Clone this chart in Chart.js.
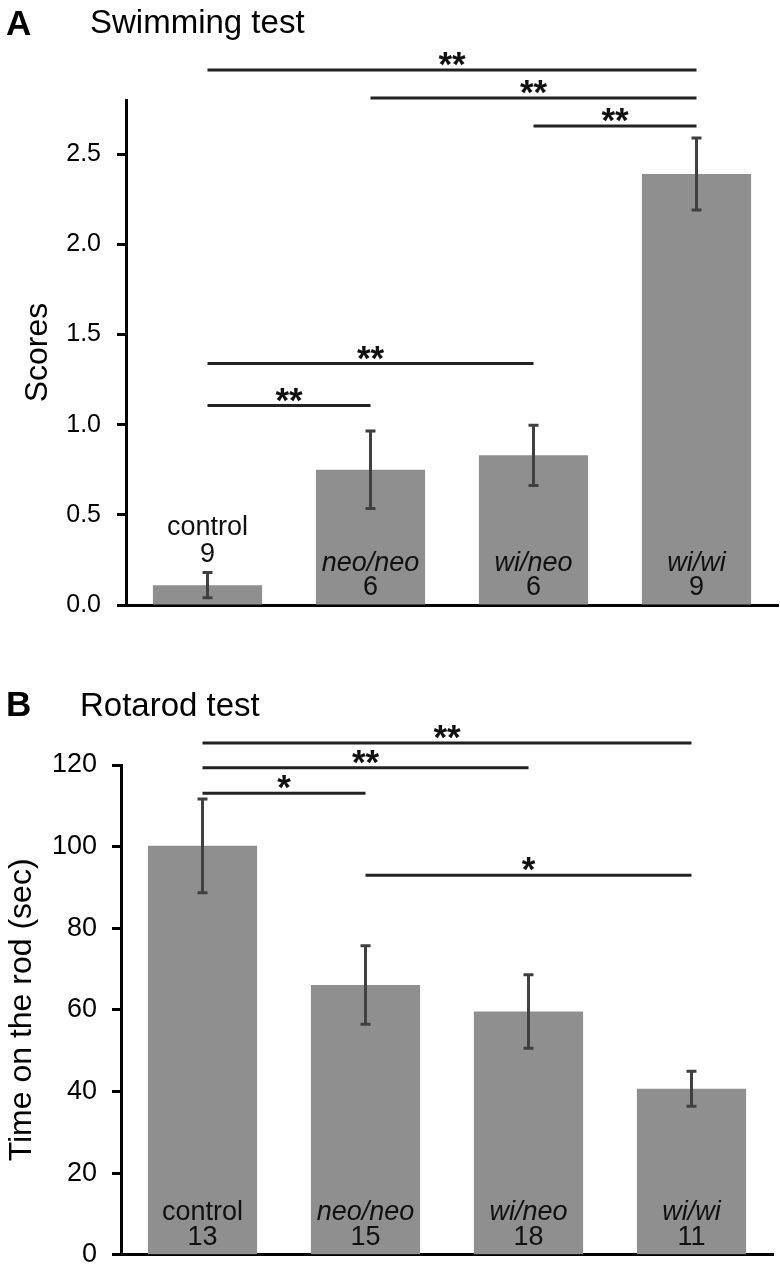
<!DOCTYPE html>
<html>
<head>
<meta charset="utf-8">
<script src="https://cdn.jsdelivr.net/npm/chart.js@4.4.0/dist/chart.umd.min.js"></script>
<style>
  body { margin: 0; background: #fff; font-family: "Liberation Sans", Arial, sans-serif; }
  #page { position: relative; width: 780px; height: 1286px; }
  canvas { position: absolute; left: 0; }
  .letter { position: absolute; font-weight: bold; font-size: 35px; line-height: 1; }
  .ttl { position: absolute; font-size: 33px; line-height: 1; }
</style>
</head>
<body>
<div id="page">
  <canvas id="chartA" style="top:0" width="780" height="640"></canvas>
  <canvas id="chartB" style="top:640px" width="780" height="646"></canvas>
  <div class="letter" style="left:6px;top:5px">A</div>
  <div class="ttl" style="left:90px;top:5px">Swimming test</div>
  <div class="letter" style="left:6px;top:686px">B</div>
  <div class="ttl" style="left:80px;top:688px">Rotarod test</div>
</div>
<script>
// groups
const genotypes = ['control', 'neo/neo', 'wi/neo', 'wi/wi'];

// A: swimming test scores (mean, error, n)
const swimMeans = [0.11, 0.75, 0.83, 2.39];
const swimErr = [0.07, 0.215, 0.167, 0.20];
const swimN = [9, 6, 6, 9];
const swimTicks = [0, 0.5, 1.0, 1.5, 2.0, 2.5];
// significance: [from, to, level (score units), mark]
const swimSig = [[0, 3, 2.967, '**'], [1, 3, 2.811, '**'], [2, 3, 2.656, '**'], [0, 2, 1.339, '**'], [0, 1, 1.106, '**']];

// B: rotarod time (sec)
const rotaMeans = [100.2, 66.1, 59.6, 40.7];
const rotaErr = [11.5, 9.6, 9.0, 4.3];
const rotaN = [13, 15, 18, 11];
const rotaTicks = [0, 20, 40, 60, 80, 100, 120];
const rotaSig = [[0, 3, 125.4, '**'], [0, 2, 119.3, '**'], [0, 1, 113.1, '*'], [1, 3, 93.0, '*']];

const FONT = '"Liberation Sans", Arial, sans-serif';

// error bars, labels inside bars, significance brackets
function extras(means, err, ns, sig) {
  return {
    id: 'extras',
    afterDatasetsDraw(chart) {
      const ctx = chart.ctx;
      const x = chart.scales.x, y = chart.scales.y;
      const base = y.getPixelForValue(0);
      ctx.save();
      ctx.strokeStyle = '#404040';
      ctx.lineWidth = 3;
      means.forEach(function(m, i) {
        const px = x.getPixelForValue(i);
        const top = y.getPixelForValue(m + err[i]);
        const bot = y.getPixelForValue(m - err[i]);
        ctx.beginPath();
        ctx.moveTo(px, top); ctx.lineTo(px, bot);
        ctx.moveTo(px - 5, top); ctx.lineTo(px + 5, top);
        ctx.moveTo(px - 5, bot); ctx.lineTo(px + 5, bot);
        ctx.stroke();
      });

      // group name + n
      ctx.fillStyle = '#111';
      ctx.textAlign = 'center';
      ctx.textBaseline = 'middle';
      means.forEach(function(m, i) {
        const px = x.getPixelForValue(i);
        let y1 = base - 42, y2 = base - 17;
        const barTop = y.getPixelForValue(m);
        if (barTop > base - 60) {
          const errTop = y.getPixelForValue(m + err[i]);
          y2 = errTop - 18; y1 = errTop - 45;
        }
        ctx.font = (i === 0 ? '' : 'italic ') + '27px ' + FONT;
        ctx.fillText(genotypes[i], px, y1);
        ctx.font = '27px ' + FONT;
        ctx.fillText(String(ns[i]), px, y2);
      });

      // brackets
      sig.forEach(function(s) {
        const x1 = x.getPixelForValue(s[0]);
        const x2 = x.getPixelForValue(s[1]);
        const ly = y.getPixelForValue(s[2]);
        ctx.strokeStyle = '#222';
        ctx.lineWidth = 3;
        ctx.beginPath();
        ctx.moveTo(x1, ly); ctx.lineTo(x2, ly);
        ctx.stroke();
        ctx.fillStyle = '#111';
        ctx.font = 'bold 35px ' + FONT;
        ctx.textBaseline = 'alphabetic';
        const d = ctx.measureText(s[3]).actualBoundingBoxDescent || -13;
        ctx.fillText(s[3], (x1 + x2) / 2, ly - 4 - d);
      });
      ctx.restore();
    }
  };
}

function makeChart(id, means, err, ns, sig, ticks, opt) {
  return new Chart(document.getElementById(id), {
    type: 'bar',
    data: {
      labels: genotypes,
      datasets: [{
        data: means,
        backgroundColor: '#8f8f8f',
        borderWidth: 0,
        barPercentage: 0.67,
        categoryPercentage: 1.0
      }]
    },
    options: {
      responsive: false,
      animation: false,
      layout: { padding: { left: 0, right: opt.right, top: opt.top, bottom: 0 } },
      plugins: { legend: { display: false }, tooltip: { enabled: false } },
      scales: {
        x: {
          offset: true,
          ticks: { display: false },
          grid: { drawOnChartArea: false, drawTicks: false },
          border: { color: '#000', width: 3 },
          afterFit: function(s) { s.height = opt.bottom; }
        },
        y: {
          min: 0,
          max: opt.max,
          afterBuildTicks: function(s) { s.ticks = ticks.map(function(v) { return { value: v }; }); },
          ticks: {
            callback: opt.fmt,
            color: '#000',
            font: { family: FONT, size: opt.tickSize },
            padding: opt.tickPad
          },
          grid: { drawOnChartArea: false, tickLength: 9, tickWidth: 3, tickColor: '#000' },
          border: { color: '#000', width: 3 },
          title: {
            display: true,
            text: opt.title,
            color: '#000',
            font: { family: FONT, size: 32 },
            padding: { top: opt.titlePad }
          },
          afterFit: function(s) { s.width = opt.left; }
        }
      }
    },
    plugins: [extras(means, err, ns, sig)]
  });
}

makeChart('chartA', swimMeans, swimErr, swimN, swimSig, swimTicks, {
  max: 2.8, top: 100, bottom: 35, left: 126, right: 2, tickPad: 16, tickSize: 25,
  title: 'Scores', titlePad: 19,
  fmt: function(v) { return Number(v).toFixed(1); }
});

makeChart('chartB', rotaMeans, rotaErr, rotaN, rotaSig, rotaTicks, {
  max: 120, top: 125, bottom: 14, left: 121, right: 7, tickPad: 15, tickSize: 27,
  title: 'Time on the rod (sec)', titlePad: 3,
  fmt: function(v) { return String(v); }
});
</script>
</body>
</html>
